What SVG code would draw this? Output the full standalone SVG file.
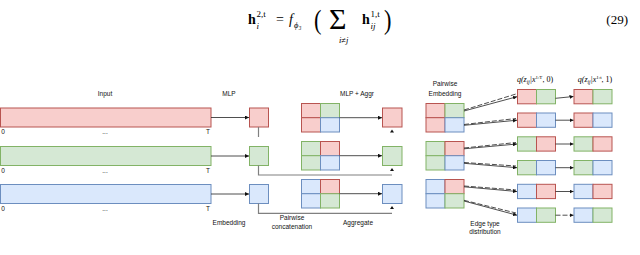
<svg xmlns="http://www.w3.org/2000/svg" width="640" height="255" viewBox="0 0 640 255">
<style>
.r{fill:#f8cecc;stroke:#b85450;stroke-width:1}
.g{fill:#d5e8d4;stroke:#82b366;stroke-width:1}
.b{fill:#dae8fc;stroke:#6c8ebf;stroke-width:1}
.t{font-family:"Liberation Sans",Arial,sans-serif;font-size:6.5px;fill:#111;text-anchor:middle}
.m{font-family:"Liberation Serif","Times New Roman",serif;fill:#000}
.c{stroke:#222;stroke-width:0.8;fill:none}
.d{stroke:#222;stroke-width:0.8;fill:none;stroke-dasharray:5 2}
.gl{stroke:#808080;stroke-width:1.2;fill:none}
</style>
<defs>
<marker id="ah" viewBox="0 0 6 6" refX="6" refY="3" markerWidth="4" markerHeight="4" orient="auto" markerUnits="userSpaceOnUse">
<path d="M0,0 L6,3 L0,6 z" fill="#111"/>
</marker>
</defs>
<rect width="640" height="255" fill="#fff"/>

<g id="equation">
<text class="m" x="248" y="24" font-size="14" font-weight="bold">h</text>
<text class="m" x="256.5" y="17" font-size="9">2,t</text>
<text class="m" x="256.5" y="28.5" font-size="9" font-style="italic">i</text>
<text class="m" x="276" y="24" font-size="14">=</text>
<text class="m" x="289" y="24" font-size="14" font-style="italic">f</text>
<text class="m" x="294" y="27.5" font-size="8.5" font-style="italic">ϕ₃</text>
<text class="m" x="314" y="29" font-size="28" transform="translate(314 0) scale(0.8 1) translate(-314 0)">(</text>
<text class="m" x="329" y="28.5" font-size="30">Σ</text>
<text class="m" x="339" y="42.5" font-size="8.5" font-style="italic">i≠j</text>
<text class="m" x="362" y="24" font-size="14" font-weight="bold">h</text>
<text class="m" x="370.5" y="17" font-size="9">1,t</text>
<text class="m" x="370.5" y="28.5" font-size="9" font-style="italic">ij</text>
<text class="m" x="384" y="29" font-size="28" transform="translate(384 0) scale(0.8 1) translate(-384 0)">)</text>
<text class="m" x="628" y="24" font-size="13" text-anchor="end">(29)</text>
</g>

<g id="titles">
<text class="t" x="105" y="95.5">Input</text>
<text class="t" x="229" y="95.5">MLP</text>
<text class="t" x="357" y="95.5">MLP + Aggr</text>
<text class="t" x="445" y="86">Pairwise</text>
<text class="t" x="445" y="96">Embedding</text>
<text class="m" x="535" y="82" font-size="8" text-anchor="middle" font-style="italic">q(z<tspan font-size="5.5" dy="1.5">ij</tspan><tspan dy="-1.5">|x</tspan><tspan font-size="5" font-style="normal" dy="-3">1:T</tspan><tspan font-style="normal" dy="3">, 0)</tspan></text>
<text class="m" x="595" y="82" font-size="8" text-anchor="middle" font-style="italic">q(z<tspan font-size="5.5" dy="1.5">ij</tspan><tspan dy="-1.5">|x</tspan><tspan font-size="5" font-style="normal" dy="-3">1:t</tspan><tspan font-style="normal" dy="3">, 1)</tspan></text>
<text class="t" x="229" y="225">Embedding</text>
<text class="t" x="292" y="220">Pairwise</text>
<text class="t" x="292" y="229">concatenation</text>
<text class="t" x="358" y="225">Aggregate</text>
<text class="t" x="485" y="225.5">Edge type</text>
<text class="t" x="485" y="234">distribution</text>
</g>

<g id="input-red"><rect class="r" x="0.5" y="108" width="210.5" height="19"/>
<text class="t" x="3" y="134">0</text><text class="t" x="105" y="134">...</text><text class="t" x="208" y="134">T</text></g>
<g id="input-green"><rect class="g" x="0.5" y="146.5" width="210.5" height="19"/>
<text class="t" x="3" y="172.5">0</text><text class="t" x="105" y="172.5">...</text><text class="t" x="208" y="172.5">T</text></g>
<g id="input-blue"><rect class="b" x="0.5" y="184.5" width="210.5" height="19"/>
<text class="t" x="3" y="210.5">0</text><text class="t" x="105" y="210.5">...</text><text class="t" x="208" y="210.5">T</text></g>

<g id="emb-red"><rect class="r" x="249.5" y="108" width="19" height="19"/></g>
<g id="emb-green"><rect class="g" x="249.5" y="146.5" width="19" height="19"/></g>
<g id="emb-blue"><rect class="b" x="249.5" y="184.5" width="19" height="19"/></g>

<g id="concat-red">
<rect class="r" x="301.5" y="103.5" width="19" height="14.2"/><rect class="g" x="320.5" y="103.5" width="19" height="14.2"/>
<rect class="r" x="301.5" y="117.7" width="19" height="14.3"/><rect class="b" x="320.5" y="117.7" width="19" height="14.3"/></g>
<g id="concat-green">
<rect class="g" x="301.5" y="141.5" width="19" height="14.2"/><rect class="r" x="320.5" y="141.5" width="19" height="14.2"/>
<rect class="g" x="301.5" y="155.7" width="19" height="14.3"/><rect class="b" x="320.5" y="155.7" width="19" height="14.3"/></g>
<g id="concat-blue">
<rect class="b" x="301.5" y="179.5" width="19" height="14.2"/><rect class="r" x="320.5" y="179.5" width="19" height="14.2"/>
<rect class="b" x="301.5" y="193.7" width="19" height="14.3"/><rect class="g" x="320.5" y="193.7" width="19" height="14.3"/></g>

<g id="agg-red"><rect class="r" x="382.5" y="108" width="19.5" height="19"/></g>
<g id="agg-green"><rect class="g" x="382.5" y="146.5" width="19.5" height="19"/></g>
<g id="agg-blue"><rect class="b" x="382.5" y="184.5" width="19.5" height="19"/></g>

<g id="pair-red">
<rect class="r" x="426" y="103.5" width="19" height="14.2"/><rect class="g" x="445" y="103.5" width="19" height="14.2"/>
<rect class="r" x="426" y="117.7" width="19" height="14.3"/><rect class="b" x="445" y="117.7" width="19" height="14.3"/></g>
<g id="pair-green">
<rect class="g" x="426" y="141.5" width="19" height="14.2"/><rect class="r" x="445" y="141.5" width="19" height="14.2"/>
<rect class="g" x="426" y="155.7" width="19" height="14.3"/><rect class="b" x="445" y="155.7" width="19" height="14.3"/></g>
<g id="pair-blue">
<rect class="b" x="426" y="179.5" width="19" height="14.2"/><rect class="r" x="445" y="179.5" width="19" height="14.2"/>
<rect class="b" x="426" y="193.7" width="19" height="14.3"/><rect class="g" x="445" y="193.7" width="19" height="14.3"/></g>

<g id="q0-1"><rect class="r" x="517.5" y="89.5" width="19" height="14.3"/><rect class="g" x="536.5" y="89.5" width="19" height="14.3"/></g>
<g id="q0-2"><rect class="r" x="517.5" y="113" width="19" height="14.3"/><rect class="b" x="536.5" y="113" width="19" height="14.3"/></g>
<g id="q0-3"><rect class="g" x="517.5" y="136.8" width="19" height="14.3"/><rect class="r" x="536.5" y="136.8" width="19" height="14.3"/></g>
<g id="q0-4"><rect class="g" x="517.5" y="160.5" width="19" height="14.3"/><rect class="b" x="536.5" y="160.5" width="19" height="14.3"/></g>
<g id="q0-5"><rect class="b" x="517.5" y="184.3" width="19" height="14.3"/><rect class="r" x="536.5" y="184.3" width="19" height="14.3"/></g>
<g id="q0-6"><rect class="b" x="517.5" y="208" width="19" height="14.3"/><rect class="g" x="536.5" y="208" width="19" height="14.3"/></g>

<g id="q1-1"><rect class="r" x="574" y="89.5" width="19" height="14.3"/><rect class="g" x="593" y="89.5" width="19" height="14.3"/></g>
<g id="q1-2"><rect class="r" x="574" y="113" width="19" height="14.3"/><rect class="b" x="593" y="113" width="19" height="14.3"/></g>
<g id="q1-3"><rect class="g" x="574" y="136.8" width="19" height="14.3"/><rect class="r" x="593" y="136.8" width="19" height="14.3"/></g>
<g id="q1-4"><rect class="g" x="574" y="160.5" width="19" height="14.3"/><rect class="b" x="593" y="160.5" width="19" height="14.3"/></g>
<g id="q1-5"><rect class="b" x="574" y="184.3" width="19" height="14.3"/><rect class="r" x="593" y="184.3" width="19" height="14.3"/></g>
<g id="q1-6"><rect class="b" x="574" y="208" width="19" height="14.3"/><rect class="g" x="593" y="208" width="19" height="14.3"/></g>

<g id="connectors">
<path class="c" d="M211 117.5H249" marker-end="url(#ah)"/>
<path class="c" d="M211 156H249" marker-end="url(#ah)"/>
<path class="c" d="M211 194H249" marker-end="url(#ah)"/>
<path class="c" d="M339.5 117.7H382" marker-end="url(#ah)"/>
<path class="c" d="M339.5 155.7H382" marker-end="url(#ah)"/>
<path class="c" d="M339.5 193.7H382" marker-end="url(#ah)"/>
<path class="gl" d="M258.5 127V137"/>
<path class="gl" d="M258.5 165.5V175H392"/>
<path class="gl" d="M258.5 203.5V213.3H392"/>
<path d="M392 129.5L394 132.5H390Z" fill="#111"/>
<path d="M392 168L394 171H390Z" fill="#111"/>
<path d="M392 206L394 209H390Z" fill="#111"/>

<path class="d" d="M464 110L516 94"/>
<path class="c" d="M464 111L517 96.7" marker-end="url(#ah)"/>
<path class="d" d="M464 124.5L516 118.5"/>
<path class="c" d="M464 125.3L517 120.2" marker-end="url(#ah)"/>
<path class="d" d="M464 148L516 142.5"/>
<path class="c" d="M464 148.8L517 144" marker-end="url(#ah)"/>
<path class="d" d="M464 162.5L516 166"/>
<path class="c" d="M464 163.3L517 167.7" marker-end="url(#ah)"/>
<path class="d" d="M464 186L516 190"/>
<path class="c" d="M464 186.8L517 191.5" marker-end="url(#ah)"/>
<path class="d" d="M464 200.3L516 213"/>
<path class="c" d="M464 201L517 215.2" marker-end="url(#ah)"/>

<path class="c" d="M555.5 98.3L573.5 96.5" marker-end="url(#ah)"/>
<path class="c" d="M555.5 120.2H573.5" marker-end="url(#ah)"/>
<path class="c" d="M555.5 144H573.5" marker-end="url(#ah)"/>
<path class="c" d="M555.5 167.7H573.5" marker-end="url(#ah)"/>
<path class="c" d="M555.5 191.5H573.5" marker-end="url(#ah)"/>
<path class="d" d="M555.5 215.2H573.5" marker-end="url(#ah)"/>
</g>
</svg>
